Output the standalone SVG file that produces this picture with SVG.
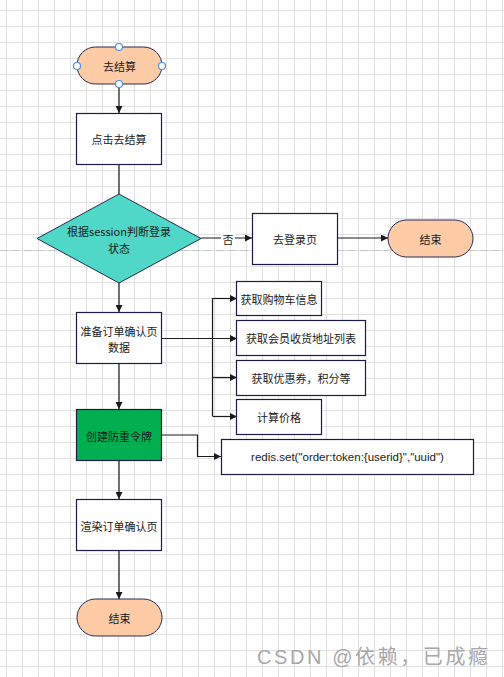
<svg xmlns="http://www.w3.org/2000/svg" width="504" height="677" viewBox="0 0 504 677">
<defs>
<pattern id="grid" x="6" y="10" width="16" height="16" patternUnits="userSpaceOnUse">
<path d="M0 0.5H16M0.5 0V16" fill="none" stroke="#e0e0e0" stroke-width="1"/>
</pattern>
<marker id="arr" viewBox="0 0 10 10" refX="10" refY="5" markerWidth="7" markerHeight="7" markerUnits="userSpaceOnUse" orient="auto">
<path d="M0 0L10 5L0 10z" fill="#1a1a1a"/>
</marker>
</defs>
<style>
.t{font-family:"Noto Sans CJK SC","Liberation Sans",sans-serif;font-size:11px;fill:#1a1a1a;text-anchor:middle;dominant-baseline:central}
.box{fill:#ffffff;stroke:#1b1b45;stroke-width:1.2}
.term{fill:#fdcba6;stroke:#2a2a55;stroke-width:1}
.ln{fill:none;stroke:#1a1a1a;stroke-width:1.2}
.h{fill:#ffffff;stroke:#4a90e2;stroke-width:1.2}
</style>
<rect width="504" height="677" fill="#ffffff"/>
<rect width="504" height="677" fill="url(#grid)"/>
<line x1="0" y1="250.5" x2="504" y2="250.5" stroke="#c8c8c8" stroke-width="1" stroke-dasharray="8,4"/>

<g id="connectors">
<path class="ln" d="M119 84V113" marker-end="url(#arr)"/>
<path class="ln" d="M119 164V194"/>
<path class="ln" d="M201 238H252" marker-end="url(#arr)"/>
<path class="ln" d="M337 238H388" marker-end="url(#arr)"/>
<path class="ln" d="M119 283V312" marker-end="url(#arr)"/>
<path class="ln" d="M162 338.5H237" marker-end="url(#arr)"/>
<path class="ln" d="M212.5 298V416"/>
<path class="ln" d="M212.5 298.5H237" marker-end="url(#arr)"/>
<path class="ln" d="M212.5 377.5H237" marker-end="url(#arr)"/>
<path class="ln" d="M212.5 416.5H237" marker-end="url(#arr)"/>
<path class="ln" d="M119 363V409" marker-end="url(#arr)"/>
<path class="ln" d="M162 435H197.5V456.5H221" marker-end="url(#arr)"/>
<path class="ln" d="M119 460V499" marker-end="url(#arr)"/>
<path class="ln" d="M119 550V599" marker-end="url(#arr)"/>
<rect x="221" y="231" width="14" height="15" fill="#ffffff"/>
<text class="t" x="228" y="238.5">否</text>
</g>

<g id="start">
<rect class="term" x="77" y="47" width="85" height="37" rx="18.5"/>
<text class="t" x="119.5" y="66">去结算</text>
<circle class="h" cx="119" cy="47" r="3.5"/>
<circle class="h" cx="77" cy="66" r="3.5"/>
<circle class="h" cx="162" cy="66" r="3.5"/>
<circle class="h" cx="119" cy="84" r="3.5"/>
</g>

<g id="click">
<rect class="box" x="76.5" y="113.5" width="85" height="51"/>
<text class="t" x="119" y="139">点击去结算</text>
</g>

<g id="decision">
<path d="M119 194L201 238.5L119 283L37 238.5z" fill="#4fd8c7" stroke="#2a2a55" stroke-width="1"/>
<text class="t" x="119" y="231">根据session判断登录</text>
<text class="t" x="119" y="247.5">状态</text>
</g>

<g id="login">
<rect class="box" x="252.5" y="213.5" width="85" height="51"/>
<text class="t" x="295" y="239">去登录页</text>
</g>

<g id="end1">
<rect class="term" x="388" y="220" width="85" height="37" rx="18.5"/>
<text class="t" x="430.5" y="238.5">结束</text>
</g>

<g id="prepare">
<rect class="box" x="76.5" y="312.5" width="85" height="51"/>
<text class="t" x="119" y="331">准备订单确认页</text>
<text class="t" x="119" y="347">数据</text>
</g>

<g id="cart">
<rect class="box" x="236.5" y="281.5" width="85" height="34"/>
<text class="t" x="279" y="298.5">获取购物车信息</text>
</g>

<g id="address">
<rect class="box" x="236.5" y="320.5" width="129" height="35"/>
<text class="t" x="301" y="338">获取会员收货地址列表</text>
</g>

<g id="coupon">
<rect class="box" x="236.5" y="360.5" width="129" height="35"/>
<text class="t" x="301" y="378">获取优惠券，积分等</text>
</g>

<g id="price">
<rect class="box" x="236.5" y="399.5" width="85" height="35"/>
<text class="t" x="279" y="417">计算价格</text>
</g>

<g id="token">
<rect x="76.5" y="409.5" width="85" height="51" fill="#00b050" stroke="#1b1b45" stroke-width="1.2"/>
<text class="t" x="119" y="436">创建防重令牌</text>
</g>

<g id="redis">
<rect class="box" x="221.5" y="439.5" width="252" height="35"/>
<text class="t" x="347.5" y="457" style="font-family:'Liberation Sans',sans-serif;font-size:11.5px">redis.set("order:token:{userid}","uuid")</text>
</g>

<g id="render">
<rect class="box" x="76.5" y="499.5" width="85" height="51"/>
<text class="t" x="119" y="526">渲染订单确认页</text>
</g>

<g id="end2">
<rect class="term" x="77" y="599" width="85" height="37" rx="18.5"/>
<text class="t" x="119.5" y="618">结束</text>
</g>

<text x="257" y="664" textLength="231" lengthAdjust="spacing" font-family="'Liberation Sans','Noto Sans CJK SC',sans-serif" font-size="20" fill="#a8a8a8">CSDN @依赖，已成瘾</text>
</svg>
